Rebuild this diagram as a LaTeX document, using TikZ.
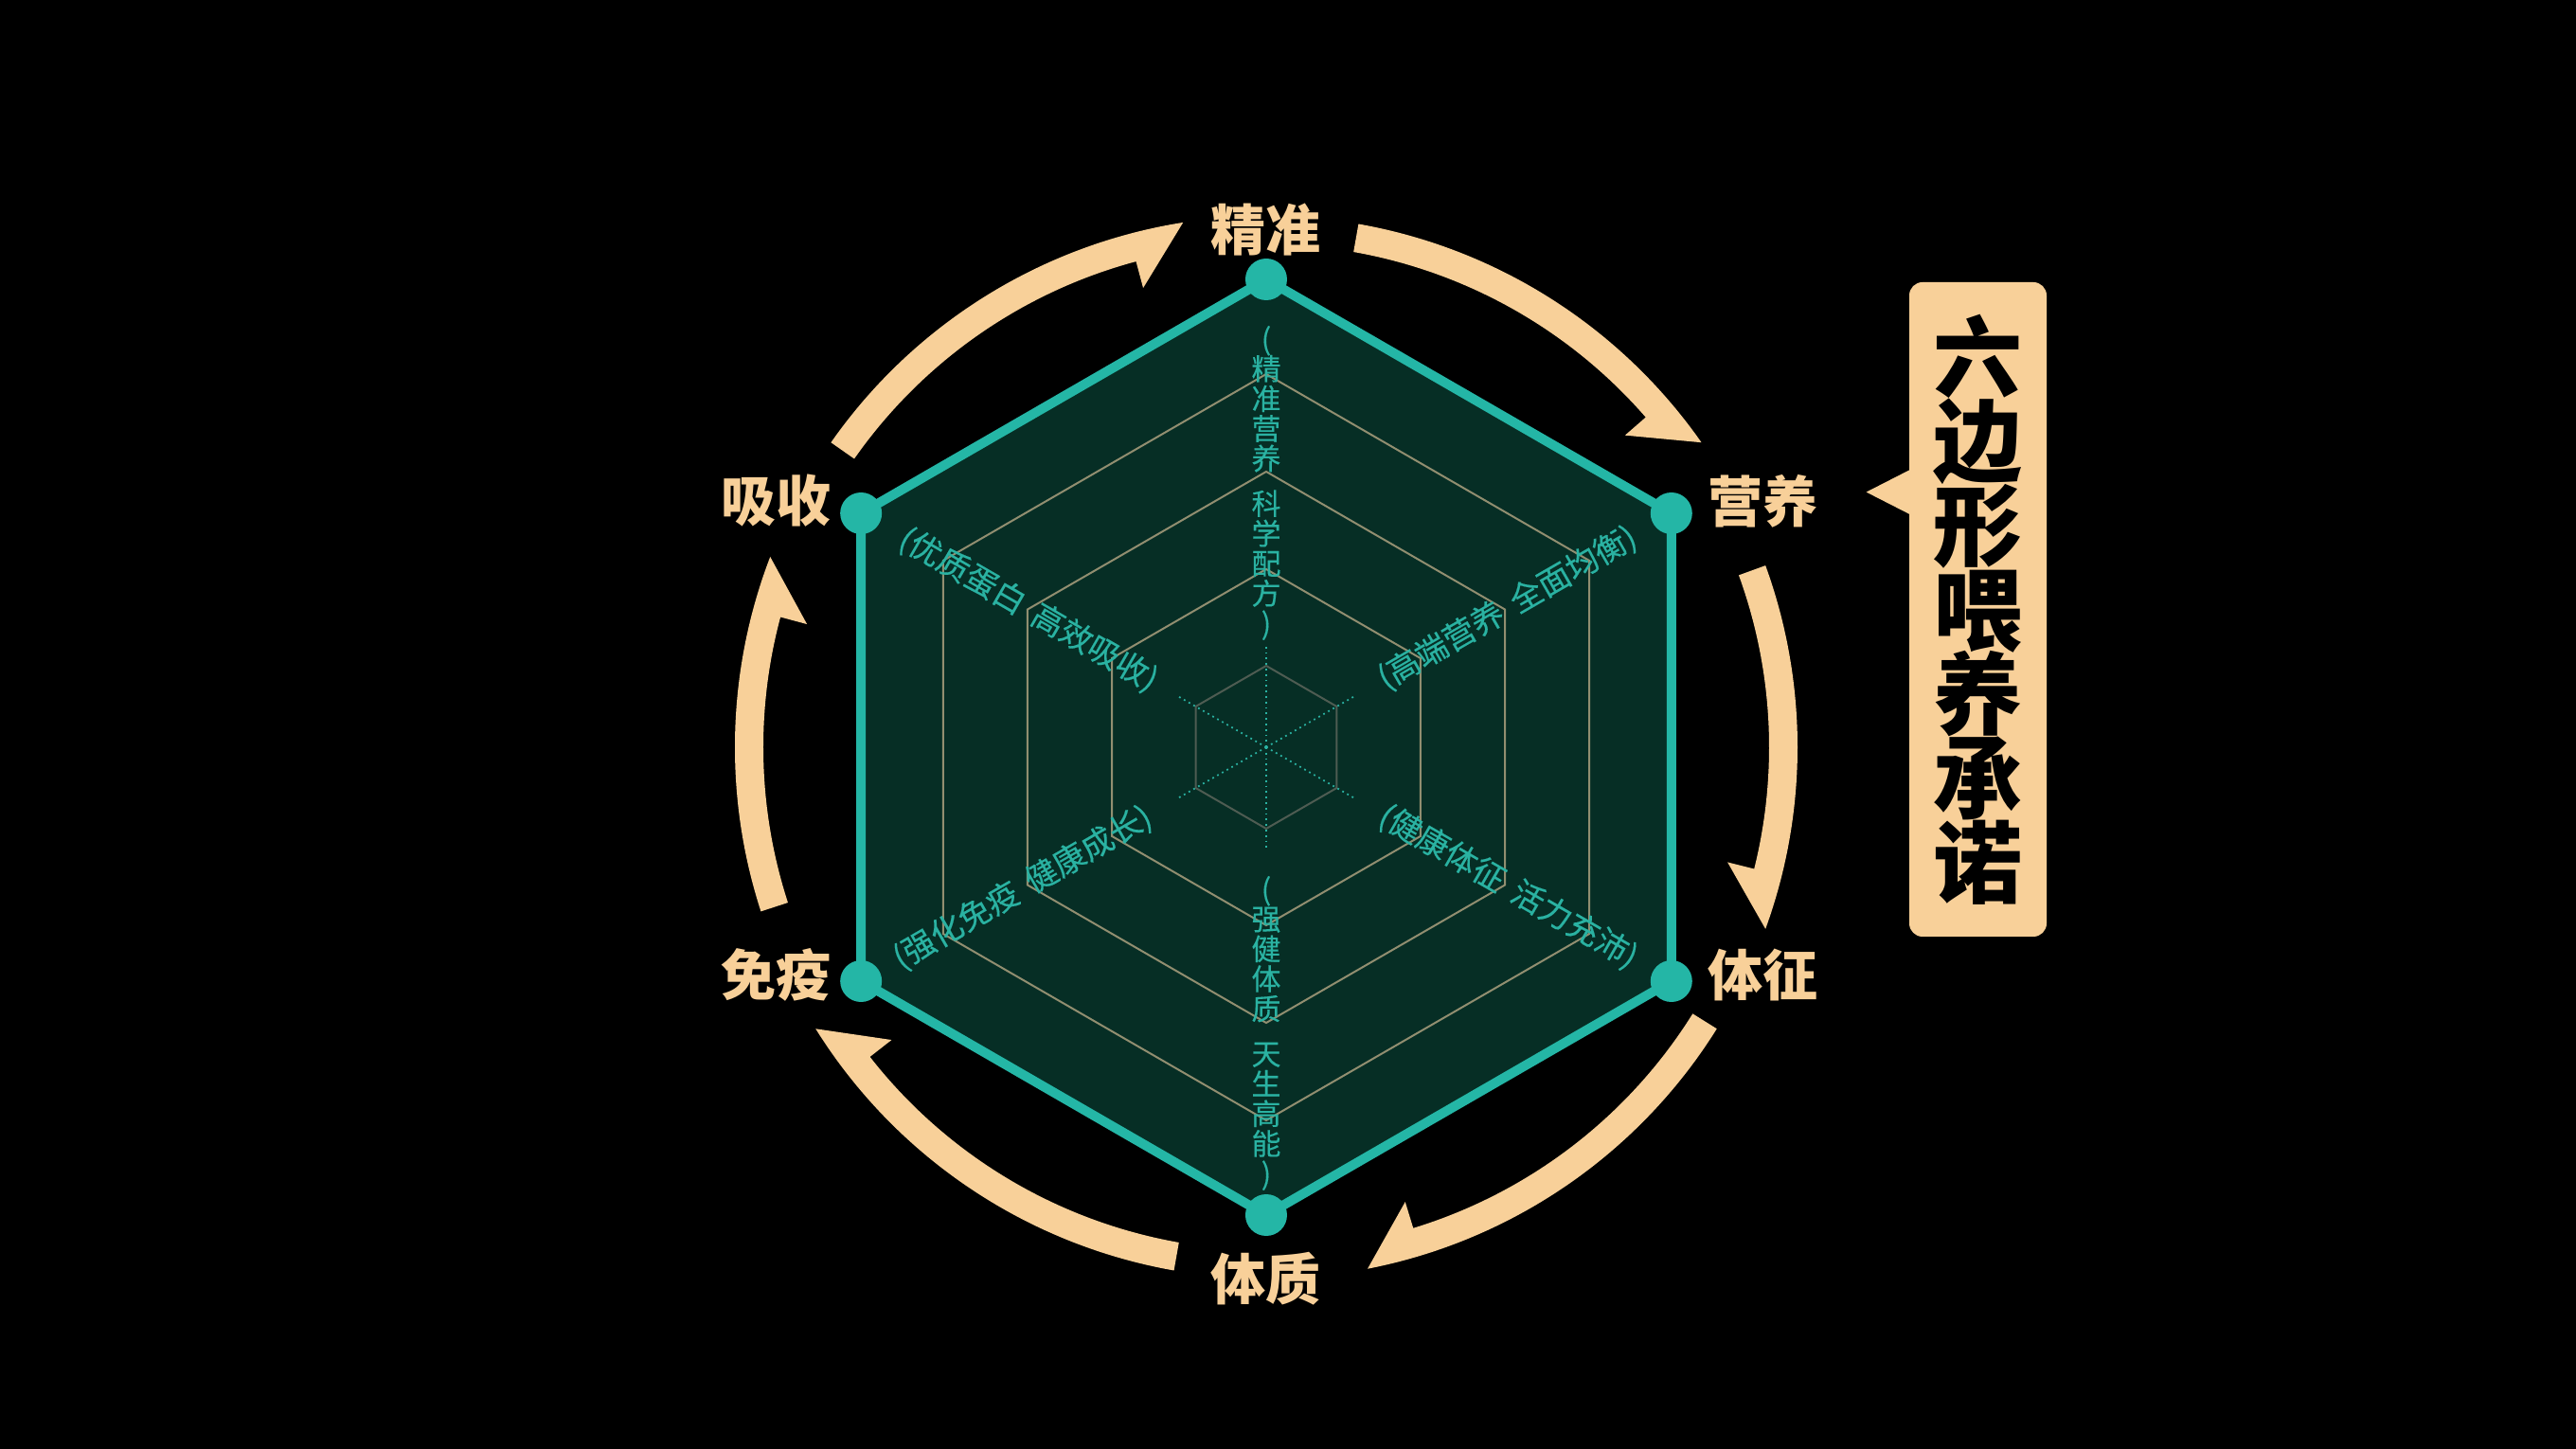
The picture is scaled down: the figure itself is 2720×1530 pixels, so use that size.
\documentclass[tikz,border=0pt]{standalone}
\usepackage{fontspec}
\usepackage{tikz}
\usetikzlibrary{positioning, calc}
\newfontfamily\cjk{Noto Sans CJK SC}
\newfontfamily\cjknote{Noto Sans CJK SC}[FakeBold=0.3]
\definecolor{bgcol}{RGB}{0,0,0}
\definecolor{fieldcol}{RGB}{6,46,37}
\definecolor{edgecol}{RGB}{36,182,166}
\definecolor{gridcol}{RGB}{145,142,112}
\definecolor{corecol}{RGB}{78,92,82}
\definecolor{notecol}{RGB}{42,178,162}
\definecolor{tancol}{RGB}{248,208,153}

\begin{document}
\lineskiplimit=-100pt
\begin{tikzpicture}[
			x=0.5pt,
			y=0.5pt,
			font=\cjk,
			ring/.style={
				draw=gridcol,
				line width=1pt
			},
			corering/.style={
				draw=corecol,
				line width=1pt
			},
			spoke/.style={
				draw=notecol,
				line width=0.9pt,
				dotted
			},
			vertex/.style={
				circle,
				fill=edgecol,
				minimum size=22pt,
				inner sep=0pt
			},
			axislabel/.style={
				text=tancol,
				inner sep=0pt,
				font=\cjk\bfseries\fontsize{29}{29}\selectfont
			},
			note/.style={
				text=notecol,
				inner sep=0pt,
				font=\cjknote\fontsize{17}{17}\selectfont
			},
			vnote/.style={
				text=notecol,
				inner sep=0pt,
				align=center,
				font=\cjknote\fontsize{15.5}{15.8}\selectfont
			},
			arrowband/.style={
				fill=tancol
			},
			titlebox/.style={
				fill=tancol,
				text=black,
				rounded corners=7pt,
				minimum width=72.5pt,
				minimum height=345.5pt,
				inner sep=0pt,
				align=center,
				font=\cjk\bfseries\fontsize{47}{44.5}\selectfont
			}
			]
			% Background
			\useasboundingbox (-1337,-741) rectangle (1383,789);
			\fill[bgcol] (-1337,-741) rectangle (1383,789);
			
			% Hexagon
			\foreach \a [count=\i] in {90,30,-30,-90,-150,150}
			\coordinate (v\i) at (\a:494);
			\fill[fieldcol] (v1) -- (v2) -- (v3) -- (v4) -- (v5) -- (v6) -- cycle;
			\foreach \r in {188,291,394}
			\draw[ring] (90:\r) -- (30:\r) -- (-30:\r) -- (-90:\r) -- (-150:\r) -- (150:\r) -- cycle;
			\draw[corering] (90:86) -- (30:86) -- (-30:86) -- (-90:86) -- (-150:86) -- (150:86) -- cycle;
			\foreach \a in {90,30,-30,-90,-150,150}
			\draw[spoke] (0,0) -- (\a:110);
			\draw[edgecol, line width=5pt, line join=round] (v1) -- (v2) -- (v3) -- (v4) -- (v5) -- (v6) -- cycle;
			\foreach \i in {1,...,6}
			\node[vertex] (d\i) at (v\i) {};
			
			% Axis labels
			\node[axislabel, above=1pt of d1] (jingzhun) {精准};
			\node[axislabel, right=8pt of d2, yshift=6.5pt] (yingyang) {营养};
			\node[axislabel, right=8pt of d3, yshift=3.5pt] (tizheng) {体征};
			\node[axislabel, below=8pt of d4] (tizhi) {体质};
			\node[axislabel, left=4.5pt of d5, yshift=3.5pt] (mianyi) {免疫};
			\node[axislabel, left=4.5pt of d6, yshift=6.5pt] (xishou) {吸收};
			
			% Notes along the spokes
			\node[vnote] (n1) at (90:279) {(\\精\\准\\营\\养\\[8pt]科\\学\\配\\方\\)};
			\node[note, rotate=30] (n2) at (30:294) {(高端营养\hspace{0.4em}全面均衡)};
			\node[note, rotate=-30] (n3) at (-30:295) {(健康体征\hspace{0.4em}活力充沛)};
			\node[vnote] (n4) at (-90:302) {(\\强\\健\\体\\质\\[8pt]天\\生\\高\\能\\)};
			\node[note, rotate=30] (n5) at (210:297) {(强化免疫\hspace{0.4em}健康成长)};
			\node[note, rotate=-30] (n6) at (150:290) {(优质蛋白\hspace{0.4em}高效吸收)};
			
			% Circular arrows
			\foreach \s/\e in {80/35, 20/-20, -32/-79, -100/-148, -162/-201, 145/99}
			\fill[arrowband] (\s:561) arc[start angle=\s, end angle=\e, radius=280.5pt]
			-- ({\e+6}:502) -- ({\e+6}:531)
			arc[start angle={\e+6}, end angle=\s, radius=265.5pt] -- cycle;
			
			% Title
			\node[titlebox] (promise) at (751.5,145.5) {六\\边\\形\\喂\\养\\承\\诺};
			\fill[tancol] ([xshift=1pt,yshift=-99pt]promise.north west)
			-- ([xshift=-22.5pt,yshift=-111pt]promise.north west)
			-- ([xshift=1pt,yshift=-123pt]promise.north west) -- cycle;
		\end{tikzpicture}
\end{document}
